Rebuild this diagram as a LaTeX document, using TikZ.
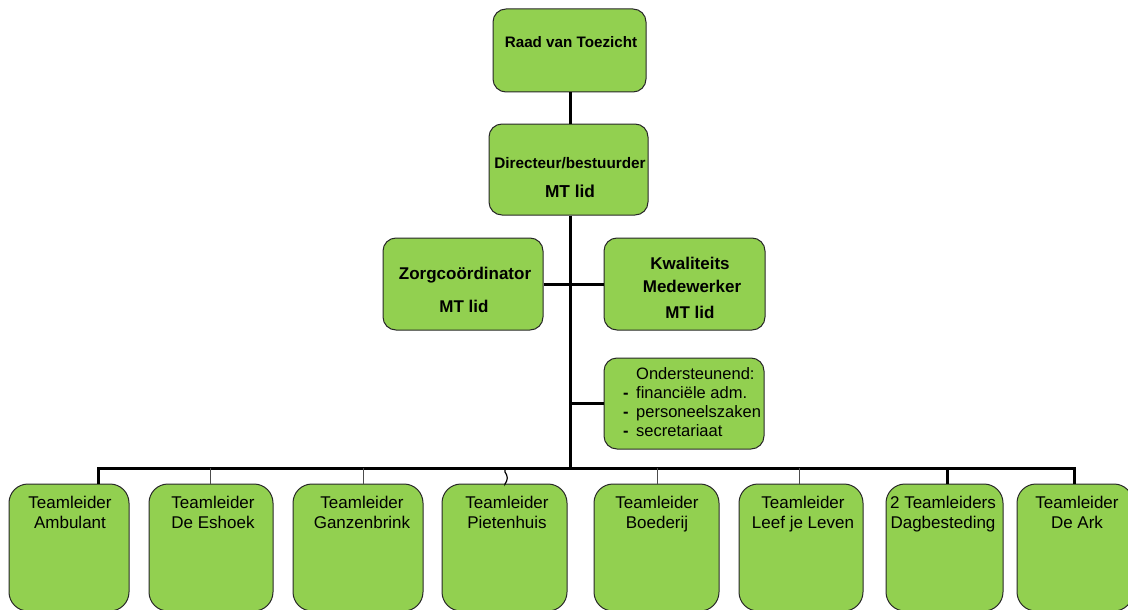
\documentclass[tikz,border=0pt]{standalone}
\usepackage{fontspec}
\setmainfont{Liberation Sans}
\definecolor{grn}{RGB}{146,208,80}
\definecolor{edge}{RGB}{40,40,40}
\begin{document}
\begin{tikzpicture}[x=1pt,y=-1pt,
  box/.style={draw=edge, fill=grn, line width=1pt, inner sep=0pt, rounded corners=13pt},
  lowbox/.style={box, rounded corners=19pt, minimum height=127pt},
  btxt/.style={font=\bfseries\fontsize{17}{20}\selectfont, anchor=base, inner sep=0pt},
  ltxt/.style={font=\fontsize{17}{19.6}\selectfont, align=center, anchor=north, inner sep=0pt},
  heavy/.style={line width=3pt, draw=black},
  light/.style={line width=0.8pt, draw=black!70}]
\useasboundingbox (0,0) rectangle (1128,610);

% upper boxes
\node[box, minimum width=153pt, minimum height=83pt] (raad) at (569.5,50.5) {};
\node[box, minimum width=159pt, minimum height=91pt] (dir) at (568.5,169.5) {};
\node[box, minimum width=160pt, minimum height=92pt] (zorg) at (463,284) {};
\node[box, minimum width=161pt, minimum height=92pt] (kwal) at (684.5,284) {};
\node[box, minimum width=160pt, minimum height=91pt] (onder) at (684,403.5) {};

% lower boxes
\node[lowbox, minimum width=120pt] (b1) at (69,547.5) {};
\node[lowbox, minimum width=124pt] (b2) at (211,547.5) {};
\node[lowbox, minimum width=130pt] (b3) at (358,547.5) {};
\node[lowbox, minimum width=125pt] (b4) at (504.5,547.5) {};
\node[lowbox, minimum width=125pt] (b5) at (656.5,547.5) {};
\node[lowbox, minimum width=124pt] (b6) at (801,547.5) {};
\node[lowbox, minimum width=117pt] (b7) at (944.5,547.5) {};
\node[lowbox, minimum width=116pt] (b8) at (1075,547.5) {};

% connector coordinates
\coordinate (trunk) at (570,468);
\coordinate (c1) at (98,468);
\coordinate (c2) at (210,468);
\coordinate (c3) at (363,468);
\coordinate (c4) at (505,468);
\coordinate (c4a) at (505,472);
\coordinate (c4b) at (505,484);
\coordinate (c5) at (657,468);
\coordinate (c6) at (799,468);
\coordinate (c7) at (947,468);
\coordinate (c8) at (1074,468);

% connectors
\draw[heavy] (trunk |- raad.south) -- (trunk |- dir.north);
\draw[heavy] (trunk |- dir.south) -- (trunk);
\draw[heavy] (zorg.east) -- (kwal.west);
\draw[heavy] (onder.west) -- (onder.west -| trunk);
\draw[heavy, line join=miter] (c1 |- b1.north) -- (c1) -- (c8) -- (c8 |- b8.north);
\draw[heavy] (c7) -- (c7 |- b7.north);
\draw[light] (c2) -- (c2 |- b2.north);
\draw[light] (c3) -- (c3 |- b3.north);
\draw[light, line width=1.2pt, draw=black] (c4) -- (c4a) .. controls (508,476) and (508,480) .. (c4b) -- (c4 |- b4.north);
\draw[light] (c5) -- (c5 |- b5.north);
\draw[light] (c6) -- (c6 |- b6.north);

% upper texts
\node[btxt, font=\bfseries\fontsize{15.2}{18}\selectfont] (raadt) at (571,48) {Raad van Toezicht};
\node[btxt, font=\bfseries\fontsize{15.3}{18}\selectfont] (dirt1) at (570,168) {Directeur/bestuurder};
\node[btxt, font=\bfseries\fontsize{17.3}{20}\selectfont] (dirt2) at (570,197) {MT lid};
\node[btxt] (zorgt1) at (465,279) {Zorgcoördinator};
\node[btxt] (zorgt2) at (464,312) {MT lid};
\node[btxt] (kwalt1) at (690,269) {Kwaliteits};
\node[btxt] (kwalt2) at (692,292) {Medewerker};
\node[btxt] (kwalt3) at (690,318) {MT lid};
\node[font=\fontsize{16.5}{19}\selectfont, align=left, anchor=north west, inner sep=0pt] (ondert) at (623,367)
  {\hspace*{13pt}Ondersteunend:\\
   \makebox[13pt][l]{\textbf{-}}financiële adm.\\
   \makebox[13pt][l]{\textbf{-}}personeelszaken\\
   \makebox[13pt][l]{\textbf{-}}secretariaat};

% lower texts
\node[ltxt] (t1) at (70,496) {Teamleider\\Ambulant};
\node[ltxt] (t2) at (213,496) {Teamleider\\De Eshoek};
\node[ltxt] (t3) at (362,496) {Teamleider\\Ganzenbrink};
\node[ltxt] (t4) at (507,496) {Teamleider\\Pietenhuis};
\node[ltxt] (t5) at (657,496) {Teamleider\\Boederij};
\node[ltxt] (t6) at (803,496) {Teamleider\\Leef je Leven};
\node[ltxt] (t7) at (943,496) {2 Teamleiders\\Dagbesteding};
\node[ltxt] (t8) at (1077,496) {Teamleider\\De Ark};
\end{tikzpicture}
\end{document}
